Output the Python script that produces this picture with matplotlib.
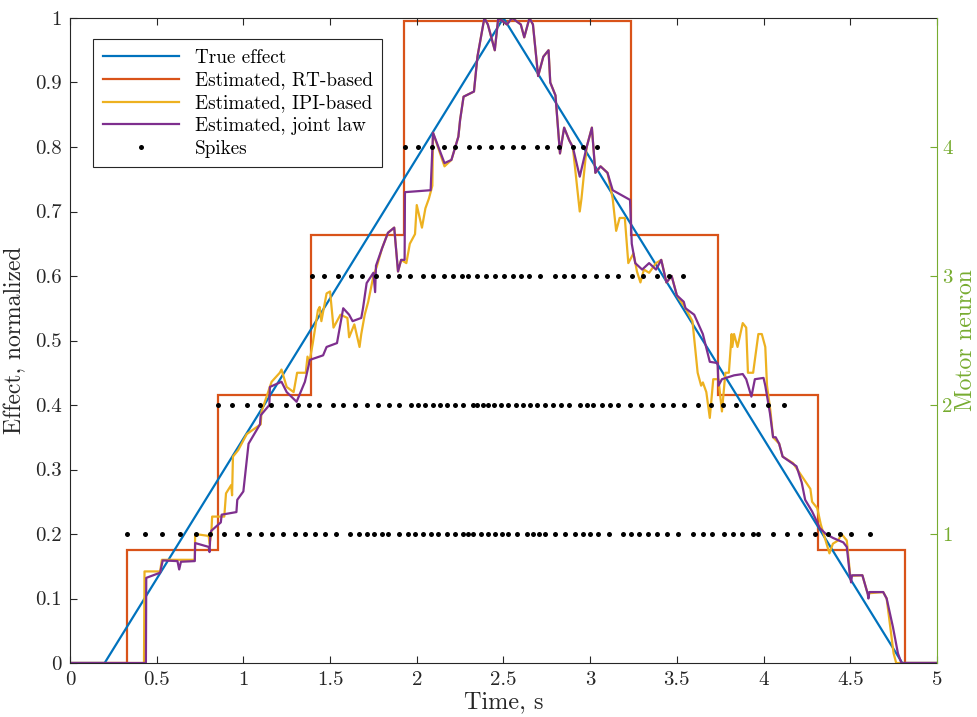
import numpy as np
import matplotlib
matplotlib.use("Agg")
import matplotlib.pyplot as plt
from matplotlib.lines import Line2D
from matplotlib.ticker import FuncFormatter

# ---- data ----
true_t = [0, 0.2, 2.5, 4.8, 5]
true_v = [0, 0, 1, 0, 0]

# RT-based estimate: step levels and where they change
rt_edges = [0, 0.329, 0.855, 1.39, 1.926, 3.235, 3.737, 4.314, 4.815, 5]
rt_levels = [0, 0.175, 0.415, 0.663, 0.995, 0.663, 0.415, 0.175, 0]

ipi_t = [0, 0.427, 0.43, 0.52, 0.53, 0.72, 0.722, 0.80, 0.805, 0.815,
         0.82, 0.89, 0.90, 0.93, 0.935, 0.94, 0.97, 1.0, 1.02, 1.10,
         1.105, 1.163, 1.21, 1.22, 1.25, 1.29, 1.31, 1.36, 1.37, 1.38,
         1.40, 1.43, 1.44, 1.45, 1.48, 1.50, 1.52, 1.56, 1.60, 1.61,
         1.64, 1.67, 1.68, 1.70, 1.72, 1.75, 1.77, 1.80, 1.834, 1.87,
         1.892, 1.91, 1.94, 1.96, 1.99, 2.0, 2.03, 2.05, 2.07, 2.09,
         2.094, 2.16, 2.20, 2.24, 2.25, 2.27, 2.33, 2.35, 2.37, 2.39,
         2.41, 2.45, 2.47, 2.52, 2.55, 2.60, 2.62, 2.65, 2.67, 2.70,
         2.73, 2.76, 2.77, 2.80, 2.826, 2.85, 2.88, 2.90, 2.94, 2.95,
         2.98, 3.01, 3.03, 3.06, 3.10, 3.13, 3.15, 3.17, 3.20, 3.22,
         3.25, 3.27, 3.29, 3.31, 3.34, 3.38, 3.41, 3.44, 3.47, 3.50,
         3.55, 3.59, 3.62, 3.64, 3.65, 3.67, 3.69, 3.71, 3.74, 3.76,
         3.78, 3.80, 3.816, 3.82, 3.83, 3.85, 3.88, 3.90, 3.91, 3.94,
         3.97, 3.99, 4.01, 4.02, 4.04, 4.055, 4.09, 4.11, 4.17, 4.22,
         4.27, 4.28, 4.31, 4.33, 4.38, 4.40, 4.43, 4.45, 4.48, 4.50,
         4.57, 4.60, 4.69, 4.71, 4.75, 4.765, 5.0]
ipi_v = [0, 0, 0.142, 0.142, 0.16, 0.16, 0.2, 0.197, 0.185, 0.2,
         0.227, 0.227, 0.263, 0.276, 0.26, 0.32, 0.33, 0.345, 0.355, 0.37,
         0.39, 0.436, 0.45, 0.455, 0.428, 0.42, 0.45, 0.45, 0.475, 0.465,
         0.495, 0.547, 0.552, 0.53, 0.573, 0.576, 0.52, 0.54, 0.535, 0.505,
         0.525, 0.49, 0.51, 0.54, 0.56, 0.60, 0.615, 0.643, 0.667, 0.675,
         0.607, 0.625, 0.62, 0.65, 0.665, 0.71, 0.675, 0.705, 0.72, 0.74,
         0.822, 0.77, 0.78, 0.816, 0.842, 0.878, 0.886, 0.94, 0.97, 1.0,
         0.99, 0.95, 1.0, 0.99, 1.0, 0.99, 0.97, 1.0, 0.99, 0.91,
         0.94, 0.95, 0.90, 0.88, 0.79, 0.83, 0.81, 0.80, 0.70, 0.72,
         0.80, 0.83, 0.76, 0.77, 0.76, 0.72, 0.67, 0.69, 0.69, 0.62,
         0.635, 0.607, 0.59, 0.61, 0.605, 0.62, 0.625, 0.59, 0.60, 0.57,
         0.55, 0.53, 0.45, 0.43, 0.435, 0.42, 0.38, 0.44, 0.44, 0.39,
         0.45, 0.45, 0.51, 0.49, 0.51, 0.49, 0.527, 0.52, 0.45, 0.45,
         0.51, 0.51, 0.49, 0.43, 0.39, 0.35, 0.34, 0.32, 0.31, 0.29,
         0.27, 0.25, 0.24, 0.215, 0.17, 0.185, 0.19, 0.20, 0.19, 0.135,
         0.136, 0.108, 0.11, 0.10, 0.015, 0, 0]

joint_t = [0, 0.438, 0.440, 0.52, 0.535, 0.62, 0.63, 0.64, 0.72, 0.722,
           0.80, 0.805, 0.81, 0.815, 0.87, 0.875, 0.96, 0.965, 1.0, 1.03,
           1.096, 1.10, 1.15, 1.153, 1.22, 1.25, 1.307, 1.355, 1.384, 1.46,
           1.48, 1.54, 1.576, 1.61, 1.63, 1.68, 1.69, 1.711, 1.75, 1.76,
           1.765, 1.80, 1.834, 1.87, 1.892, 1.91, 1.93, 1.932, 2.08, 2.094,
           2.16, 2.20, 2.24, 2.25, 2.27, 2.33, 2.35, 2.37, 2.39, 2.41,
           2.45, 2.47, 2.52, 2.55, 2.60, 2.62, 2.65, 2.67, 2.70, 2.73,
           2.76, 2.77, 2.80, 2.826, 2.85, 2.88, 2.90, 2.94, 2.98, 3.01,
           3.03, 3.06, 3.10, 3.13, 3.23, 3.24, 3.26, 3.30, 3.34, 3.38,
           3.41, 3.44, 3.47, 3.50, 3.54, 3.55, 3.60, 3.65, 3.69, 3.735,
           3.74, 3.76, 3.83, 3.88, 3.90, 3.93, 3.95, 4.00, 4.01, 4.037,
           4.055, 4.07, 4.09, 4.11, 4.19, 4.22, 4.24, 4.28, 4.325, 4.36,
           4.40, 4.46, 4.48, 4.498, 4.505, 4.51, 4.57, 4.60, 4.605, 4.61,
           4.69, 4.71, 4.746, 4.775, 4.795, 5.0]
joint_v = [0, 0, 0.132, 0.14, 0.159, 0.158, 0.145, 0.157, 0.158, 0.186,
           0.18, 0.172, 0.2, 0.205, 0.218, 0.23, 0.234, 0.253, 0.266, 0.34,
           0.37, 0.384, 0.40, 0.428, 0.436, 0.42, 0.405, 0.436, 0.47, 0.477,
           0.49, 0.496, 0.55, 0.54, 0.53, 0.535, 0.55, 0.589, 0.605, 0.575,
           0.616, 0.643, 0.667, 0.675, 0.607, 0.625, 0.625, 0.73, 0.733, 0.822,
           0.775, 0.78, 0.816, 0.842, 0.878, 0.886, 0.94, 0.97, 1.0, 0.99,
           0.95, 1.0, 0.99, 1.0, 0.99, 0.97, 1.0, 0.99, 0.91, 0.94,
           0.95, 0.90, 0.88, 0.79, 0.83, 0.81, 0.80, 0.754, 0.80, 0.83,
           0.76, 0.77, 0.76, 0.733, 0.718, 0.65, 0.62, 0.61, 0.62, 0.61,
           0.625, 0.59, 0.60, 0.57, 0.56, 0.55, 0.54, 0.51, 0.467, 0.465,
           0.43, 0.44, 0.446, 0.448, 0.44, 0.413, 0.44, 0.442, 0.43, 0.387,
           0.35, 0.35, 0.34, 0.32, 0.305, 0.28, 0.253, 0.235, 0.209, 0.20,
           0.194, 0.187, 0.18, 0.136, 0.125, 0.136, 0.136, 0.108, 0.10, 0.11,
           0.11, 0.10, 0.056, 0.015, 0, 0]

# spike times per motor neuron (1..4)
spikes_mn1 = [0.330, 0.433, 0.533, 0.634, 0.727, 0.807, 0.888, 0.961, 1.034, 1.101,
              1.163, 1.227, 1.298, 1.355, 1.413, 1.471, 1.534, 1.615, 1.669, 1.711,
              1.755, 1.798, 1.832, 1.899, 1.948, 1.990, 2.038, 2.082, 2.124, 2.176,
              2.220, 2.265, 2.297, 2.322, 2.368, 2.412, 2.451, 2.490, 2.528, 2.576,
              2.634, 2.672, 2.707, 2.739, 2.797, 2.855, 2.912, 2.957, 2.999, 3.047,
              3.110, 3.187, 3.235, 3.283, 3.332, 3.384, 3.441, 3.505, 3.591, 3.649,
              3.701, 3.774, 3.826, 3.878, 3.937, 3.970, 4.053, 4.133, 4.210, 4.296,
              4.373, 4.441, 4.502, 4.614]
spikes_mn2 = [0.855, 0.936, 1.019, 1.096, 1.159, 1.246, 1.313, 1.380, 1.438, 1.515,
              1.576, 1.644, 1.711, 1.778, 1.842, 1.899, 1.965, 2.009, 2.048, 2.092,
              2.134, 2.176, 2.220, 2.268, 2.322, 2.349, 2.380, 2.412, 2.445, 2.486,
              2.528, 2.572, 2.611, 2.653, 2.691, 2.739, 2.787, 2.832, 2.880, 2.941,
              2.980, 3.014, 3.066, 3.114, 3.162, 3.230, 3.293, 3.355, 3.418, 3.479,
              3.541, 3.620, 3.697, 3.764, 3.839, 3.937, 4.027, 4.118]
spikes_mn3 = [1.394, 1.465, 1.544, 1.619, 1.686, 1.765, 1.832, 1.899, 1.961, 2.038,
              2.092, 2.159, 2.211, 2.259, 2.297, 2.345, 2.399, 2.451, 2.503, 2.553,
              2.599, 2.649, 2.711, 2.797, 2.849, 2.903, 2.966, 3.033, 3.099, 3.162,
              3.239, 3.306, 3.383, 3.456, 3.537]
spikes_mn4 = [1.932, 2.009, 2.086, 2.157, 2.220, 2.303, 2.361, 2.426, 2.490, 2.553,
              2.614, 2.691, 2.749, 2.822, 2.899, 2.960, 3.037]

x_ticks = [0, 0.5, 1, 1.5, 2, 2.5, 3, 3.5, 4, 4.5, 5]
y_ticks = [0, 0.1, 0.2, 0.3, 0.4, 0.5, 0.6, 0.7, 0.8, 0.9, 1]
mn_ticks = [1, 2, 3, 4]

# ---- style ----
plt.rcParams["font.family"] = "serif"
plt.rcParams["font.serif"] = ["cmr10"]
plt.rcParams["mathtext.fontset"] = "cm"
plt.rcParams["axes.formatter.use_mathtext"] = True

c_blue = "#0072BD"
c_orange = "#D95319"
c_yellow = "#EDB120"
c_purple = "#7E2F8E"
c_green = "#77AC30"
c_axis = "#262626"

fig = plt.figure(figsize=(9.77, 7.17), dpi=100)
ax = fig.add_axes([0.0716, 0.0753, 0.8874, 0.8996])

ax.plot(true_t, true_v, color=c_blue, lw=1.6, label="True effect")
ax.stairs(rt_levels, rt_edges, color=c_orange, lw=1.6, baseline=None,
          label="Estimated, RT-based")
ax.plot(ipi_t, ipi_v, color=c_yellow, lw=1.6, label="Estimated, IPI-based")
ax.plot(joint_t, joint_v, color=c_purple, lw=1.6, label="Estimated, joint law")

ax.set_xlim(0, 5)
ax.set_ylim(0, 1)
ax.set_xticks(x_ticks)
ax.set_yticks(y_ticks)
fmt = FuncFormatter(lambda v, p: "%g" % v)
ax.xaxis.set_major_formatter(fmt)
ax.yaxis.set_major_formatter(fmt)
ax.tick_params(direction="in", top=True, right=False, length=5, width=0.8,
               colors=c_axis, labelsize=15, pad=6)
for s in ["left", "top", "bottom"]:
    ax.spines[s].set_color(c_axis)
    ax.spines[s].set_linewidth(0.8)
ax.spines["right"].set_visible(False)
ax.set_xlabel("Time, s", fontsize=17.5, color=c_axis, labelpad=1)
ax.set_ylabel("Effect, normalized", fontsize=17, color=c_axis, labelpad=6)

ax2 = ax.twinx()
for k, st in enumerate([spikes_mn1, spikes_mn2, spikes_mn3, spikes_mn4]):
    ax2.plot(st, [mn_ticks[k]] * len(st), "o", color="black", ms=3.6,
             mec="none")
ax2.set_ylim(0, 5)
ax2.set_yticks(mn_ticks)
ax2.yaxis.set_major_formatter(fmt)
ax2.tick_params(direction="in", length=5, width=0.8, colors=c_green,
                labelsize=15, pad=4)
for s in ["left", "top", "bottom"]:
    ax2.spines[s].set_visible(False)
ax2.spines["right"].set_color(c_green)
ax2.spines["right"].set_linewidth(0.8)
ax2.set_ylabel("Motor neuron", fontsize=17, color=c_green, labelpad=1)

handles = [Line2D([], [], color=c_blue, lw=1.6),
           Line2D([], [], color=c_orange, lw=1.6),
           Line2D([], [], color=c_yellow, lw=1.6),
           Line2D([], [], color=c_purple, lw=1.6),
           Line2D([], [], marker="o", ls="none", color="black", ms=3.6, mec="none")]
labels = ["True effect", "Estimated, RT-based", "Estimated, IPI-based",
          "Estimated, joint law", "Spikes"]
leg = ax2.legend(handles, labels, loc="upper left", bbox_to_anchor=(0.0265, 0.967),
                 borderaxespad=0, fancybox=False, framealpha=1, fontsize=13.8,
                 edgecolor=c_axis, handlelength=4.0, handletextpad=0.8,
                 labelspacing=0.25, borderpad=0.5)
leg.get_frame().set_linewidth(0.8)

fig.savefig("out.png", dpi=100)
